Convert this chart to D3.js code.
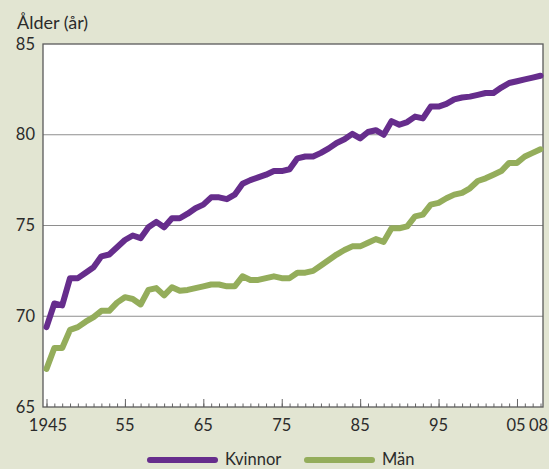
<!DOCTYPE html>
<html>
<head>
<meta charset="utf-8">
<script src="https://cdn.jsdelivr.net/npm/d3@7"></script>
<style>
  html, body { margin: 0; padding: 0; background: #e2e5d2; }
  svg { display: block; font-family: Lato, "Open Sans", sans-serif; }
</style>
</head>
<body>
<svg id="chart" width="549" height="469"></svg>
<script>
// Medellivslängd, 1945-2008
const years = d3.range(1945, 2009);

const kvinnor = [
  69.4, 70.7, 70.6, 72.1, 72.1, 72.4, 72.7, 73.3, 73.4, 73.8,
  74.2, 74.45, 74.3, 74.9, 75.2, 74.9, 75.4, 75.4, 75.65, 75.95,
  76.15, 76.55, 76.55, 76.45, 76.7, 77.3, 77.5, 77.65, 77.8, 78.0,
  78.0, 78.1, 78.7, 78.8, 78.8, 79.0, 79.25, 79.55, 79.75, 80.05,
  79.8, 80.15, 80.25, 80.0, 80.75, 80.55, 80.7, 81.0, 80.9, 81.55,
  81.55, 81.7, 81.95, 82.05, 82.1, 82.2, 82.3, 82.3, 82.6, 82.85,
  82.95, 83.05, 83.15, 83.25
];

const man = [
  67.1, 68.25, 68.25, 69.25, 69.4, 69.7, 69.95, 70.3, 70.3, 70.75,
  71.05, 70.95, 70.65, 71.45, 71.55, 71.15, 71.6, 71.4, 71.45, 71.55,
  71.65, 71.75, 71.75, 71.65, 71.65, 72.2, 72.0, 72.0, 72.1, 72.2,
  72.1, 72.1, 72.4, 72.4, 72.5, 72.8, 73.1, 73.4, 73.65, 73.85,
  73.85, 74.05, 74.25, 74.1, 74.85, 74.85, 74.95, 75.5, 75.6, 76.15,
  76.25, 76.5, 76.7, 76.8, 77.05, 77.45, 77.6, 77.8, 78.0, 78.45,
  78.45, 78.8, 79.0, 79.2
];

const yTicks = [65, 70, 75, 80, 85];
const gridTicks = [70, 75, 80];
const majorYears = [1945, 1955, 1965, 1975, 1985, 1995, 2005, 2008];
const xLabels = ["1945", "55", "65", "75", "85", "95", "05", "08"];

const seriesNames = ["Kvinnor", "Män"];
const colors = ["#662d8c", "#94ad5b"];

const frame = { left: 43, right: 543, top: 44, bottom: 407 };

const x = d3.scaleLinear().domain([1945, 2008]).range([46.5, 540.5]);
const y = d3.scaleLinear().domain([65, 85]).range([frame.bottom, frame.top]);

const svg = d3.select("#chart");

// plot background
svg.append("rect")
  .attr("x", frame.left).attr("y", frame.top)
  .attr("width", frame.right - frame.left)
  .attr("height", frame.bottom - frame.top)
  .attr("fill", "#fff");

// grid lines
svg.append("g")
  .selectAll("line")
  .data(gridTicks)
  .join("line")
  .attr("x1", frame.left).attr("x2", frame.right)
  .attr("y1", d => y(d)).attr("y2", d => y(d))
  .attr("stroke", "#8e8e8e")
  .attr("stroke-width", 1.2);

// x ticks (every year, longer every ten)
const xAxis = svg.append("g").attr("transform", `translate(0,${frame.bottom})`);
xAxis.append("g")
  .call(d3.axisBottom(x).tickValues(years).tickSize(-3.5).tickFormat(""))
  .call(g => g.select(".domain").remove());
xAxis.append("g")
  .call(d3.axisBottom(x).tickValues(majorYears.slice(0, 7)).tickSize(-8).tickFormat(""))
  .call(g => g.select(".domain").remove());
xAxis.selectAll(".tick line").attr("stroke", "#666").attr("stroke-width", 1);

// x labels
svg.append("g")
  .selectAll("text")
  .data(majorYears)
  .join("text")
  .attr("x", (d, i) => x(d) + (i === 0 ? 1.5 : 0) + (i === 7 ? -2 : 0) + (i === 6 ? -1 : 0))
  .attr("y", 431)
  .attr("text-anchor", "middle")
  .attr("font-size", 16.5)
  .attr("fill", "#2b2b2b")
  .text((d, i) => xLabels[i]);

// y labels
svg.append("g")
  .selectAll("text")
  .data(yTicks)
  .join("text")
  .attr("x", 35)
  .attr("y", d => y(d) + 5.5)
  .attr("text-anchor", "end")
  .attr("font-size", 16.5)
  .attr("fill", "#2b2b2b")
  .text(d => d);

// frame
svg.append("rect")
  .attr("x", frame.left).attr("y", frame.top)
  .attr("width", frame.right - frame.left)
  .attr("height", frame.bottom - frame.top)
  .attr("fill", "none")
  .attr("stroke", "#5a5a5a")
  .attr("stroke-width", 1.3);

// lines
const line = d3.line()
  .x((d, i) => x(years[i]))
  .y(d => y(d));

[kvinnor, man].forEach((s, k) => {
  svg.append("path")
    .datum(s)
    .attr("d", line)
    .attr("fill", "none")
    .attr("stroke", colors[k])
    .attr("stroke-width", 6)
    .attr("stroke-linejoin", "round")
    .attr("stroke-linecap", "round");
});

// title
svg.append("text")
  .attr("x", 17).attr("y", 29)
  .attr("font-size", 18)
  .attr("fill", "#2b2b2b")
  .text("Ålder (år)");

// legend
const legendX = [150, 307];
const legend = svg.append("g");
seriesNames.forEach((name, k) => {
  legend.append("line")
    .attr("x1", legendX[k]).attr("x2", legendX[k] + 65)
    .attr("y1", 460).attr("y2", 460)
    .attr("stroke", colors[k])
    .attr("stroke-width", 6)
    .attr("stroke-linecap", "round");
  legend.append("text")
    .attr("x", legendX[k] + 75).attr("y", 465)
    .attr("font-size", 16.5)
    .attr("fill", "#2b2b2b")
    .text(name);
});
</script>
</body>
</html>
